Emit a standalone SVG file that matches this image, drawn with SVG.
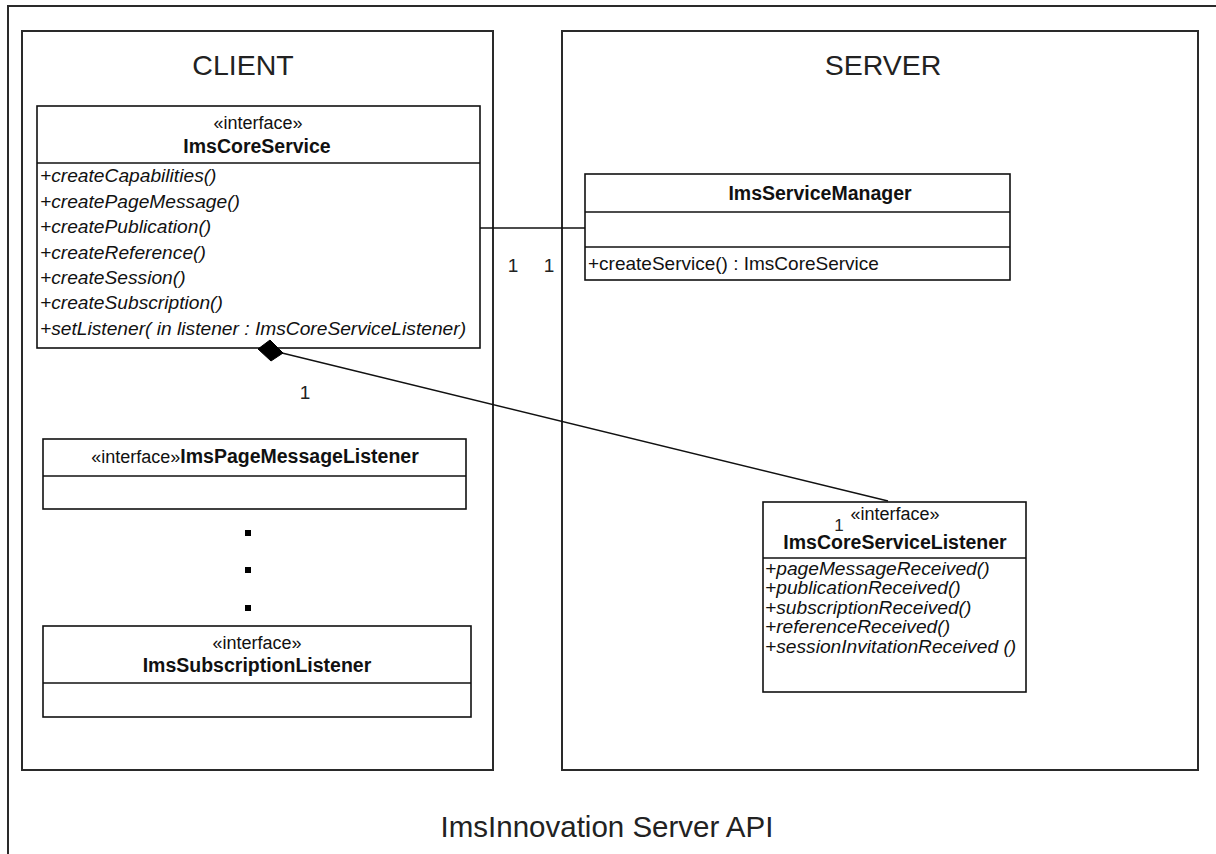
<svg xmlns="http://www.w3.org/2000/svg" width="1216" height="854" viewBox="0 0 1216 854">
  <defs>
    <style>
      .frame { fill: none; stroke: #2a2a2a; stroke-width: 2; }
      .box { fill: #ffffff; stroke: #111111; stroke-width: 1.6; }
      .sep { stroke: #111111; stroke-width: 1.4; }
      .conn { fill: none; stroke: #111111; stroke-width: 1.4; }
      .title { font-family: "Liberation Sans", Arial, sans-serif; font-size: 28.5px; fill: #222222; text-anchor: middle; }
      .stereo { font-family: "Liberation Sans", Arial, sans-serif; font-size: 18px; fill: #111111; }
      .name { font-family: "Liberation Sans", Arial, sans-serif; font-size: 19.5px; font-weight: bold; fill: #111111; }
      .op { font-family: "Liberation Sans", Arial, sans-serif; font-size: 19.2px; font-style: italic; fill: #111111; }
      .opn { font-family: "Liberation Sans", Arial, sans-serif; font-size: 19px; fill: #111111; }
      .mult { font-family: "Liberation Sans", Arial, sans-serif; font-size: 19px; fill: #222222; text-anchor: middle; }
      .mid { text-anchor: middle; }
    </style>
  </defs>

  <rect width="1216" height="854" fill="#ffffff"/>

  <!-- package frames -->
  <g id="system-frame">
    <path class="frame" d="M8 860 V6 H1220"/>
    <text class="title" x="607" y="837" style="font-size:29.5px">ImsInnovation Server API</text>
  </g>
  <g id="client-package">
    <rect class="frame" x="22" y="31" width="471" height="739"/>
    <text class="title" x="243" y="75">CLIENT</text>
  </g>
  <g id="server-package">
    <rect class="frame" x="562" y="31" width="636" height="739"/>
    <text class="title" x="883" y="75">SERVER</text>
  </g>

  <!-- ImsCoreService -->
  <g id="ims-core-service">
    <rect class="box" x="37" y="106" width="443" height="242"/>
    <line class="sep" x1="37" y1="163" x2="480" y2="163"/>
    <text class="stereo mid" x="258" y="129">«interface»</text>
    <text class="name mid" x="257" y="153">ImsCoreService</text>
    <text class="op" x="40" y="182">+createCapabilities()</text>
    <text class="op" x="40" y="208">+createPageMessage()</text>
    <text class="op" x="40" y="233">+createPublication()</text>
    <text class="op" x="40" y="259">+createReference()</text>
    <text class="op" x="40" y="284">+createSession()</text>
    <text class="op" x="40" y="309">+createSubscription()</text>
    <text class="op" x="40" y="335">+setListener( in listener : ImsCoreServiceListener)</text>
  </g>

  <!-- ImsServiceManager -->
  <g id="ims-service-manager">
    <rect class="box" x="585" y="174" width="425" height="106"/>
    <line class="sep" x1="585" y1="212" x2="1010" y2="212"/>
    <line class="sep" x1="585" y1="247" x2="1010" y2="247"/>
    <text class="name mid" x="820" y="200">ImsServiceManager</text>
    <text class="opn" x="588" y="270">+createService() : ImsCoreService</text>
  </g>

  <!-- ImsPageMessageListener -->
  <g id="ims-page-message-listener">
    <rect class="box" x="43" y="439" width="423" height="70"/>
    <line class="sep" x1="43" y1="476" x2="466" y2="476"/>
    <text class="mid" x="255" y="463" style="font-family:'Liberation Sans',Arial,sans-serif;font-size:18px;fill:#111"><tspan>«interface»</tspan><tspan font-weight="bold" font-size="19.5">ImsPageMessageListener</tspan></text>
  </g>

  <!-- ellipsis between listeners -->
  <g id="ellipsis" fill="#000000">
    <rect x="245" y="530" width="6" height="6"/>
    <rect x="245" y="567" width="6" height="6"/>
    <rect x="245" y="605" width="6" height="6"/>
  </g>

  <!-- ImsSubscriptionListener -->
  <g id="ims-subscription-listener">
    <rect class="box" x="43" y="626" width="428" height="91"/>
    <line class="sep" x1="43" y1="683" x2="471" y2="683"/>
    <text class="stereo mid" x="257" y="649">«interface»</text>
    <text class="name mid" x="257" y="672">ImsSubscriptionListener</text>
  </g>

  <!-- ImsCoreServiceListener -->
  <g id="ims-core-service-listener">
    <rect class="box" x="763" y="502" width="263" height="190"/>
    <line class="sep" x1="763" y1="558" x2="1026" y2="558"/>
    <text class="stereo mid" x="895" y="520">«interface»</text>
    <text class="name mid" x="895" y="549">ImsCoreServiceListener</text>
    <text class="op" x="765" y="575">+pageMessageReceived()</text>
    <text class="op" x="765" y="594">+publicationReceived()</text>
    <text class="op" x="765" y="614">+subscriptionReceived()</text>
    <text class="op" x="765" y="633">+referenceReceived()</text>
    <text class="op" x="765" y="653">+sessionInvitationReceived ()</text>
  </g>

  <!-- connectors, drawn last so ends and labels sit on top of the boxes -->
  <g id="connectors">
    <line class="conn" x1="480" y1="228" x2="585" y2="228"/>
    <text class="mult" x="513" y="272">1</text>
    <text class="mult" x="549" y="272">1</text>
    <line class="conn" x1="282" y1="353" x2="888" y2="501"/>
    <polygon points="258,349 270,340 283,353 271,361" fill="#000000" stroke="#000000" stroke-width="1"/>
    <text class="mult" x="305" y="399">1</text>
    <text class="mult" x="839" y="531" style="font-size:17px">1</text>
  </g>
</svg>
